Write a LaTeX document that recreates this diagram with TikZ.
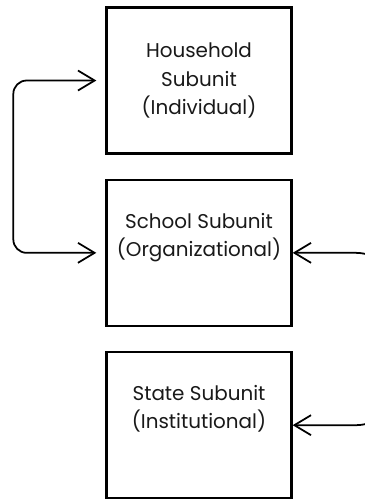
\documentclass[tikz,border=0pt]{standalone}
\usepackage{fontspec}
\setsansfont{Poppins}
\usetikzlibrary{positioning, arrows.meta}
\tikzset{unit/.style={draw, line width=2pt, minimum width=5.55cm, minimum height=4.38cm, align=center, font=\sffamily\fontsize{17}{24}\selectfont, text=black!90}}
\tikzset{link/.style={line width=1.5pt, line join=round, {Straight Barb[length=0.5cm,width=0.6cm]}-{Straight Barb[length=0.5cm,width=0.6cm]}}}

\begin{document}
\begin{tikzpicture}
  \useasboundingbox (0,0) rectangle (10.95,-15);
  \clip (0,0) rectangle (10.95,-15);

  \node[unit] (household) at (5.97,-2.415) {Household\\Subunit\\(Individual)};
  \node[unit] (school) [below=0.72cm of household] {School Subunit\\(Organizational)\\\strut};
  \node[unit] (state) [below=0.72cm of school] {State Subunit\\(Institutional)\\\strut};

  \draw[link, rounded corners=0.4cm, shorten <=0.27cm, shorten >=0.27cm] (household.west) -- ++(-2.76,0) |- (school.west);
  \draw[link, rounded corners=1.2cm] (school.east) -- ++(3.1,0) |- (state.east);

\end{tikzpicture}
\end{document}
